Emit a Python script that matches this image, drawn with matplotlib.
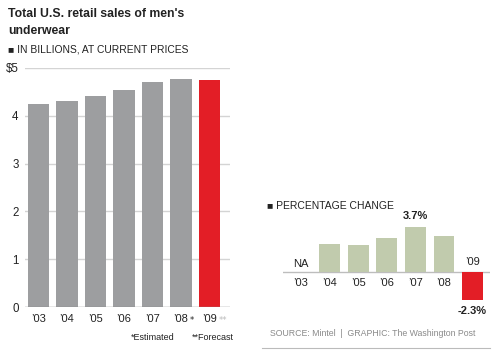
#!/usr/bin/env python3
"""Men's underwear retail sales: totals and yearly percentage change."""

import matplotlib
matplotlib.use("Agg")
import matplotlib.pyplot as plt
from matplotlib.lines import Line2D

years = ["’03", "’04", "’05", "’06", "’07", "’08", "’09"]
sales = [4.25, 4.32, 4.42, 4.54, 4.70, 4.76, 4.75]
sales_ticks = [0, 1, 2, 3, 4, 5]
sales_tick_labels = ["0", "1", "2", "3", "4", "$5"]
pct_years = ["’04", "’05", "’06", "’07", "’08", "’09"]
pct_change = [2.3, 2.2, 2.8, 3.7, 2.9, -2.3]

GRAY = "#9d9ea0"
RED = "#e31e26"
GREEN = "#c1cbad"
GRID = "#d4d4d4"
TEXT = "#222222"
SANS = ["Liberation Sans", "DejaVu Sans"]

W, H = 500, 351


def px_axes(fig, left, top, right, bottom):
    return fig.add_axes([left / W, 1 - bottom / H, (right - left) / W, (bottom - top) / H])


fig = plt.figure(figsize=(5.0, 3.51), dpi=100)
fig.patch.set_facecolor("white")

# titles
fig.text(8 / W, 1 - 14 / H, "Total U.S. retail sales of men's", family=SANS,
         weight="bold", fontsize=8.8, color=TEXT, va="center")
fig.text(8 / W, 1 - 31 / H, "underwear", family=SANS, weight="bold",
         fontsize=8.8, color=TEXT, va="center")
fig.text(8 / W, 1 - 50 / H, "■ IN BILLIONS, AT CURRENT PRICES", family=SANS,
         fontsize=7.4, color=TEXT, va="center")

# left: total sales
ax = px_axes(fig, 25, 68, 230, 307)
x = list(range(len(years)))
colors = [GRAY] * (len(years) - 1) + [RED]
ax.bar(x, sales, width=0.74, color=colors, zorder=2)
ax.set_xlim(-0.474, 6.72)
ax.set_ylim(0, 5)
for t in sales_ticks[1:]:
    ax.axhline(t, color=GRID, lw=1.0, zorder=1)
ax.axhline(0, color="#888888", lw=1.0, zorder=3)
ax.set_yticks(sales_ticks)
ax.set_yticklabels(sales_tick_labels, family=SANS, fontsize=8.3, color=TEXT)
ax.tick_params(axis="y", length=0, pad=4.5)
ax.set_xticks(x)
ax.set_xticklabels(years, family=SANS, fontsize=8, color=TEXT)
ax.tick_params(axis="x", length=0, pad=5)
for s in ax.spines.values():
    s.set_visible(False)
ax.patch.set_visible(False)
ax.annotate("*", xy=(5, 0), xytext=(6.5, -10), textcoords="offset points",
            fontsize=6, color=TEXT, ha="left", va="center", annotation_clip=False)
ax.annotate("**", xy=(6, 0), xytext=(6.5, -10), textcoords="offset points",
            fontsize=6, color="#bbbbbb", ha="left", va="center", annotation_clip=False)

fig.text(131 / W, 1 - 337 / H, "*Estimated", family=SANS, fontsize=6.5,
         color=TEXT, va="center")
fig.text(192 / W, 1 - 337 / H, "**Forecast", family=SANS, fontsize=6.5,
         color=TEXT, va="center")

# right: percentage change
ax2 = px_axes(fig, 283, 223, 490, 308.75)
px = list(range(1, len(pct_years) + 1))
pcolors = [GREEN] * (len(pct_years) - 1) + [RED]
ax2.bar(px, pct_change, width=0.73, color=pcolors, zorder=2)
ax2.set_xlim(-0.63, 6.61)
ax2.set_ylim(-3, 4)
ax2.axhline(0, color="#bdbdbd", lw=1.0, zorder=1)
ax2.set_xticks([])
ax2.set_yticks([])
for s in ax2.spines.values():
    s.set_visible(False)
ax2.patch.set_visible(False)

ax2.annotate("’03", xy=(0, 0), xytext=(0, -8), textcoords="offset points",
             family=SANS, fontsize=8, color=TEXT, ha="center", va="center")
ax2.annotate("NA", xy=(0, 0), xytext=(0, 5.5), textcoords="offset points",
             family=SANS, fontsize=8, color=TEXT, ha="center", va="center")
for xi, lab, v in zip(px, pct_years, pct_change):
    dy = -8 if v >= 0 else 7.5
    ax2.annotate(lab, xy=(xi, 0), xytext=(0, dy), textcoords="offset points",
                 family=SANS, fontsize=8, color=TEXT, ha="center", va="center")
i07 = pct_years.index("’07")
ax2.annotate(f"{pct_change[i07]:.1f}%", xy=(px[i07], pct_change[i07]),
             xytext=(0, 7.5), textcoords="offset points", family=SANS,
             fontsize=8, weight="bold", color=TEXT, ha="center", va="center",
             annotation_clip=False)
ax2.annotate(f"{pct_change[-1]:.1f}%", xy=(px[-1], pct_change[-1]),
             xytext=(0, -8), textcoords="offset points", family=SANS,
             fontsize=8, weight="bold", color=TEXT, ha="center", va="center",
             annotation_clip=False)

fig.text(267 / W, 1 - 206 / H, "■ PERCENTAGE CHANGE", family=SANS,
         fontsize=7.5, color=TEXT, va="center")
fig.text(270 / W, 1 - 334 / H, "SOURCE: Mintel  |  GRAPHIC: The Washington Post",
         family=SANS, fontsize=6.3, color="#8a8a8a", va="center")
fig.add_artist(Line2D([262 / W, 490 / W], [1 - 348 / H, 1 - 348 / H],
                      color="#bbbbbb", lw=0.8))

fig.savefig("out.png", dpi=100, facecolor="white")
